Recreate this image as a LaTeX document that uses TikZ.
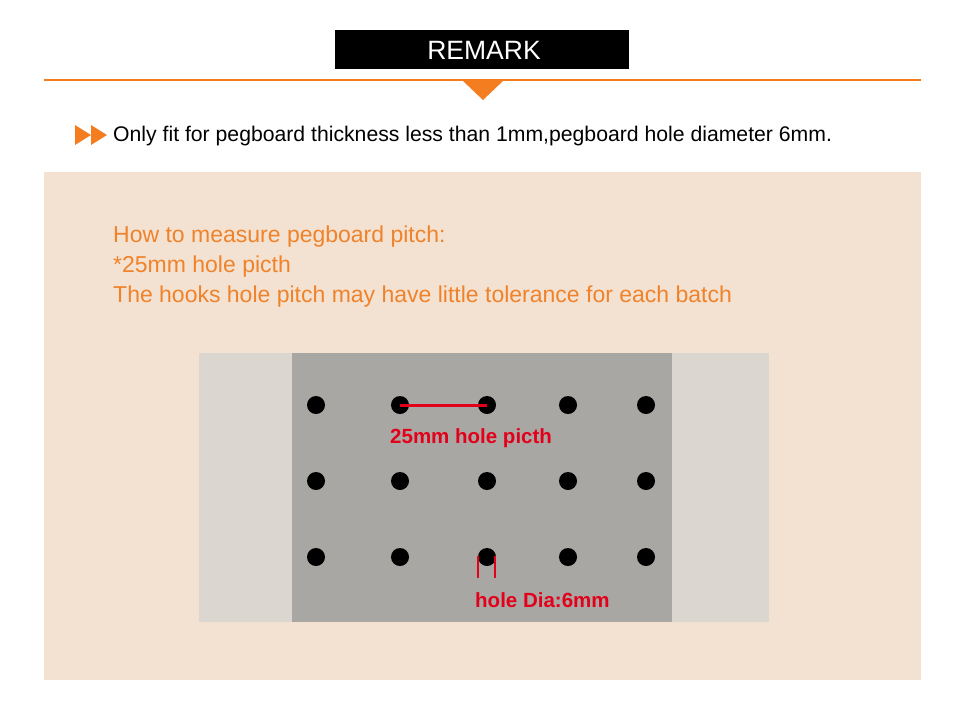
\documentclass[tikz,border=0pt]{standalone}
\usepackage{fontspec}
\setmainfont{Liberation Sans}
\definecolor{orng}{HTML}{F47D1F}
\definecolor{otext}{HTML}{F0822A}
\definecolor{panel}{HTML}{F3E2D2}
\definecolor{lgray}{HTML}{DCD6D0}
\definecolor{dgray}{HTML}{A9A7A3}
\definecolor{rd}{HTML}{E2001A}
\begin{document}
\begin{tikzpicture}[x=1pt,y=-1pt,
  hole/.style={circle,fill=black,inner sep=0pt,minimum size=18pt},
  redlbl/.style={text=rd,font=\fontsize{20.5}{24}\selectfont\bfseries,inner sep=0pt,anchor=west},
  otxt/.style={text=otext,font=\fontsize{23}{26}\selectfont,inner sep=0pt,anchor=west}]
\useasboundingbox (0,0) rectangle (960,710);
\fill[white] (0,0) rectangle (960,710);
% title
\fill[black] (335,30) rectangle (629,69);
\node[text=white,font=\fontsize{26.5}{30}\selectfont,inner sep=0pt] (title) at (484,50.5) {REMARK};
\draw[orng,line width=2pt] (44,80) -- (921,80);
\fill[orng] (463,81) -- (503,81) -- (483,100) -- cycle;
% bullet
\fill[orng] (75,125) -- (91,135) -- (75,145) -- cycle;
\fill[orng] (91,125) -- (107,135) -- (91,145) -- cycle;
\node[font=\fontsize{21.2}{24}\selectfont,inner sep=0pt,anchor=west] (note) at (113,136) {Only fit for pegboard thickness less than 1mm,pegboard hole diameter 6mm.};
% panel
\fill[panel] (44,172) rectangle (921,680);
\node[otxt] (l1) at (113,237) {How to measure pegboard pitch:};
\node[otxt] (l2) at (113,267) {*25mm hole picth};
\node[otxt] (l3) at (113,297) {The hooks hole pitch may have little tolerance for each batch};
% pegboard
\fill[lgray] (199,353) rectangle (769,622);
\fill[dgray] (292,353) rectangle (672,622);
\foreach \r/\y in {a/405,b/481,c/557}{
  \foreach \c/\x in {1/316,2/400,3/487,4/568,5/646}{
    \node[hole] (h\r\c) at (\x,\y) {};
  }
}
\draw[rd,line width=3pt] (ha2.center) -- (ha3.center);
\node[redlbl] (pitch) at (390,438) {25mm hole picth};
\draw[rd,line width=1.5pt] (478,556) -- (478,578);
\draw[rd,line width=1.5pt] (495,556) -- (495,578);
\node[redlbl] (dia) at (475,600) {hole Dia:6mm};
\end{tikzpicture}
\end{document}
